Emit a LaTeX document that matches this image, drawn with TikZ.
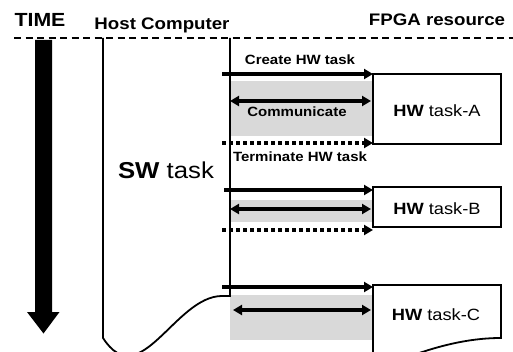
\documentclass[tikz,border=0pt]{standalone}
\usepackage{fontspec}
\setmainfont{Liberation Sans}[FakeStretch=1.12]
\usetikzlibrary{arrows.meta}
\definecolor{shade}{HTML}{D9D9D9}
\tikzset{
  hwbox/.style={draw, line width=1.8pt, fill=white, minimum width=128pt, inner sep=0pt},
  hwlabel/.style={inner sep=0pt, font=\fontsize{16.3}{19}\selectfont},
  msg/.style={inner sep=0pt, font=\bfseries\fontsize{13.4}{16}\selectfont},
  head/.style={inner sep=0pt, font=\bfseries\fontsize{16.7}{19}\selectfont},
  ctl/.style={line width=3.6pt, -{Triangle[length=9pt,width=10pt]}},
  com/.style={line width=3.6pt, {Triangle[length=9pt,width=10pt]}-{Triangle[length=9pt,width=10pt]}},
  term/.style={line width=3.6pt, dash pattern=on 4pt off 3pt, -{Triangle[length=9pt,width=10pt]}},
  region/.style={fill=shade, draw=none},
  outline/.style={draw, line width=1.8pt}
}
\begin{document}
\begin{tikzpicture}[x=1pt,y=-1pt]
\useasboundingbox (0,0) rectangle (513,352);
\clip (0,0) rectangle (513,352);

% headings
\node[head, font=\bfseries\fontsize{19}{22}\selectfont] (time) at (40,20) {TIME};
\node[head] (host) at (162,25) {Host Computer};
\node[head] (fpga) at (437,20) {FPGA resource};

% timeline separator
\coordinate (sepL) at (14,38);
\coordinate (sepR) at (513,38);
\draw[line width=2.4pt, dash pattern=on 7pt off 4.5pt] (sepL) -- (sepR);

% time arrow
\fill (35,40) -- (52,40) -- (52,312) -- (59.5,312) -- (43.5,333.5) -- (27,312) -- (35,312) -- cycle;

% shaded communication regions
\fill[region] (230,81) rectangle (373,136);
\fill[region] (230,200) rectangle (373,222);
\fill[region] (230,295) rectangle (373,340);

% SW task shape
\draw[outline, fill=none] (103,38) -- (103,338)
  .. controls (140,395) and (175,296) .. (222,296) -- (230,296) -- (230,38);
\node[inner sep=0pt, font=\fontsize{23}{27}\selectfont] (sw) at (166,170) {\textbf{SW} task};

% HW task boxes
\node[hwbox, minimum height=70pt] (hwa) at (437,109) {};
\node[hwlabel] (hwaL) at (437,111) {\textbf{HW} task-A};
\node[hwbox, minimum height=40pt] (hwb) at (437,207) {};
\node[hwlabel] (hwbL) at (437,209) {\textbf{HW} task-B};
\draw[outline, fill=white] (373,365) -- (373,285) -- (501,285) -- (501,338)
  .. controls (465,338) and (430,348) .. (395,362) -- cycle;
\node[hwlabel] (hwcL) at (436,315) {\textbf{HW} task-C};

% endpoints
\coordinate (cAs) at (222,74);   \coordinate (cAe) at (373,74);
\coordinate (mAs) at (230,101);  \coordinate (mAe) at (371,101);
\coordinate (tAs) at (222,143);  \coordinate (tAe) at (373,143);
\coordinate (cBs) at (224,190);  \coordinate (cBe) at (373,190);
\coordinate (mBs) at (230,209);  \coordinate (mBe) at (371,209);
\coordinate (tBs) at (222,230);  \coordinate (tBe) at (373,230);
\coordinate (cCs) at (222,287);  \coordinate (cCe) at (373,287);
\coordinate (mCs) at (233,310);  \coordinate (mCe) at (371,310);

\draw[ctl] (cAs) -- (cAe);
\draw[com] (mAs) -- (mAe);
\draw[term] (tAs) -- (tAe);
\draw[ctl] (cBs) -- (cBe);
\draw[com] (mBs) -- (mBe);
\draw[term] (tBs) -- (tBe);
\draw[ctl] (cCs) -- (cCe);
\draw[com] (mCs) -- (mCe);

% message labels
\node[msg] (create) at (300,60) {Create HW task};
\node[msg] (commu) at (297,112) {Communicate};
\node[msg] (termi) at (300,157) {Terminate HW task};
\end{tikzpicture}
\end{document}
